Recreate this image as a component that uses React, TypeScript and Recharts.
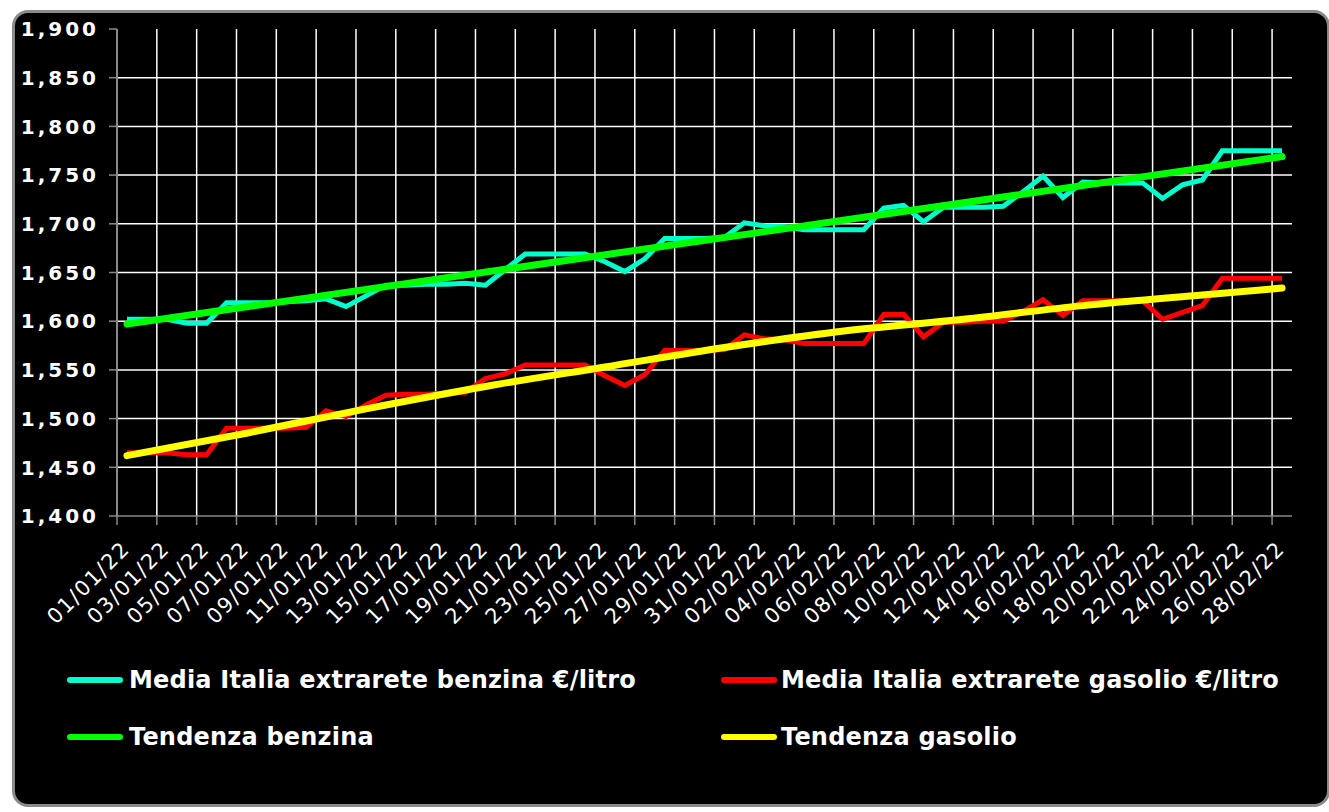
import React from 'react';
import { LineChart, Line, XAxis, YAxis, CartesianGrid, Legend } from 'recharts';

const dates = [
  '01/01/22', '02/01/22', '03/01/22', '04/01/22', '05/01/22', '06/01/22', '07/01/22', '08/01/22',
  '09/01/22', '10/01/22', '11/01/22', '12/01/22', '13/01/22', '14/01/22', '15/01/22', '16/01/22',
  '17/01/22', '18/01/22', '19/01/22', '20/01/22', '21/01/22', '22/01/22', '23/01/22', '24/01/22',
  '25/01/22', '26/01/22', '27/01/22', '28/01/22', '29/01/22', '30/01/22', '31/01/22', '01/02/22',
  '02/02/22', '03/02/22', '04/02/22', '05/02/22', '06/02/22', '07/02/22', '08/02/22', '09/02/22',
  '10/02/22', '11/02/22', '12/02/22', '13/02/22', '14/02/22', '15/02/22', '16/02/22', '17/02/22',
  '18/02/22', '19/02/22', '20/02/22', '21/02/22', '22/02/22', '23/02/22', '24/02/22', '25/02/22',
  '26/02/22', '27/02/22', '28/02/22',
];

const benzina = [
  1.602, 1.602, 1.602, 1.598, 1.598, 1.619, 1.619, 1.619, 1.620, 1.621,
  1.623, 1.615, 1.626, 1.637, 1.637, 1.638, 1.638, 1.639, 1.637, 1.653,
  1.669, 1.669, 1.669, 1.669, 1.661, 1.651, 1.664, 1.685, 1.685, 1.685,
  1.686, 1.701, 1.698, 1.697, 1.694, 1.694, 1.694, 1.694, 1.716, 1.719,
  1.702, 1.717, 1.717, 1.717, 1.718, 1.733, 1.749, 1.727, 1.743, 1.742,
  1.742, 1.742, 1.726, 1.740, 1.745, 1.775, 1.775, 1.775, 1.775,
];

const gasolio = [
  1.465, 1.465, 1.465, 1.463, 1.463, 1.490, 1.490, 1.490, 1.490, 1.491,
  1.508, 1.502, 1.514, 1.524, 1.525, 1.525, 1.526, 1.527, 1.541, 1.546,
  1.555, 1.555, 1.555, 1.555, 1.544, 1.534, 1.545, 1.570, 1.570, 1.570,
  1.571, 1.586, 1.582, 1.581, 1.577, 1.577, 1.577, 1.577, 1.607, 1.607,
  1.584, 1.599, 1.599, 1.600, 1.600, 1.610, 1.622, 1.606, 1.621, 1.621,
  1.621, 1.621, 1.602, 1.609, 1.616, 1.644, 1.644, 1.644, 1.644,
];

// benzina trend: straight line, end points
const trendBenzinaDays = [0, 58];
const trendBenzina = [1.597, 1.769];
// gasolio trend: gently curved, values at these days
const trendGasolioDays = [0, 6, 12, 18, 24, 30, 36, 42, 48, 54, 58];
const trendGasolio = [1.462, 1.485, 1.510, 1.533, 1.553, 1.573, 1.590, 1.602, 1.616, 1.627, 1.634];

const yTicks = [1.4, 1.45, 1.5, 1.55, 1.6, 1.65, 1.7, 1.75, 1.8, 1.85, 1.9];
const yGridValues = [1.45, 1.5, 1.55, 1.6, 1.65, 1.7, 1.75, 1.8, 1.85];

const seriesNames = [
  'Media Italia extrarete benzina €/litro',
  'Media Italia extrarete gasolio €/litro',
  'Tendenza benzina',
  'Tendenza gasolio',
];
const seriesColors = ['#00FFCC', '#FF0000', '#00FF00', '#FFFF00'];

const last = dates.length - 1;
const data = dates.map((d, i) => {
  const b = trendBenzinaDays.indexOf(i);
  const g = trendGasolioDays.indexOf(i);
  return {
    idx: i,
    date: d,
    benz: benzina[i],
    gas: gasolio[i],
    tb: b >= 0 ? trendBenzina[b] : null,
    tg: g >= 0 ? trendGasolio[g] : null,
  };
});

// category boundaries (ticks between categories, every 2 days)
const xTicks = dates.map((_, i) => i - 0.5).filter((_, i) => i % 2 === 0);

const fmtY = (v: number) => v.toFixed(3).replace('.', ',');

const XTick = (props: any) => {
  const { x, y, payload } = props;
  const label = dates[Math.round(payload.value + 0.5)];
  const px = x + 14;
  const py = y + 25;
  return (
    <text
      x={px}
      y={py}
      transform={`rotate(-45, ${px}, ${py})`}
      textAnchor="end"
      fill="#ffffff"
      fontFamily="DejaVu Sans"
      fontSize={21}
      letterSpacing={1.5}
    >
      {label}
    </text>
  );
};

const YTick = (props: any) => {
  const { x, y, payload } = props;
  return (
    <text
      x={x}
      y={y}
      dy="0.36em"
      textAnchor="end"
      fill="#ffffff"
      fontFamily="DejaVu Sans"
      fontWeight="bold"
      fontSize={20}
      letterSpacing={3}
    >
      {fmtY(payload.value)}
    </text>
  );
};

const legendPos = [
  { line: 67, text: 129, top: 43 },
  { line: 721, text: 781, top: 43 },
  { line: 67, text: 129, top: 100 },
  { line: 721, text: 781, top: 100 },
];

const LegendBox = () => (
  <div style={{ position: 'relative', width: 1329, height: 190 }}>
    {seriesNames.map((name, i) => (
      <div
        key={name}
        style={{
          position: 'absolute',
          left: 0,
          top: legendPos[i].top,
          height: 30,
          width: 1329,
        }}
      >
        <div
          style={{
            position: 'absolute',
            left: legendPos[i].line,
            top: 12,
            width: 56,
            height: 6,
            borderRadius: 3,
            background: seriesColors[i],
          }}
        />
        <div
          style={{
            position: 'absolute',
            left: legendPos[i].text,
            top: 0,
            height: 30,
            lineHeight: '30px',
            whiteSpace: 'nowrap',
            color: '#ffffff',
            fontFamily: 'DejaVu Sans',
            fontWeight: 'bold',
            fontSize: 24,
            letterSpacing: 0.2,
          }}
        >
          {name}
        </div>
      </div>
    ))}
  </div>
);

export default function App() {
  return (
    <div style={{ position: 'absolute', left: 0, top: 0, width: 1329, height: 812, background: '#ffffff', overflow: 'hidden' }}>
      <div
        style={{
          position: 'absolute',
          left: 12,
          top: 10,
          width: 1318,
          height: 797,
          background: '#000000',
          border: '3px solid #8a8a8a',
          borderRadius: 16,
          boxSizing: 'border-box',
        }}
      />
      <div style={{ position: 'absolute', left: 0, top: 0 }}>
        <LineChart width={1329} height={812} data={data} margin={{ top: 29, right: 37, left: 0, bottom: 0 }}>
          <CartesianGrid
            stroke="#ffffff"
            strokeWidth={1.5}
            horizontalValues={yGridValues}
            verticalValues={xTicks}
          />
          <XAxis
            dataKey="idx"
            type="number"
            domain={[-0.5, last + 0.5]}
            ticks={xTicks}
            interval={0}
            height={106}
            tickSize={9}
            tickMargin={0}
            axisLine={{ stroke: '#8a8a8a', strokeWidth: 1.5 }}
            tickLine={{ stroke: '#8a8a8a', strokeWidth: 1.5 }}
            tick={<XTick />}
          />
          <YAxis
            type="number"
            domain={[1.4, 1.9]}
            ticks={yTicks}
            interval={0}
            width={117}
            tickSize={8}
            tickMargin={10}
            axisLine={{ stroke: '#8a8a8a', strokeWidth: 2 }}
            tickLine={{ stroke: '#8a8a8a', strokeWidth: 1.5 }}
            tick={<YTick />}
          />
          <Legend
            verticalAlign="bottom"
            wrapperStyle={{ left: 0, top: 622, bottom: 'auto', width: 1329, height: 190 }}
            content={() => <LegendBox />}
          />
          <Line dataKey="benz" stroke={seriesColors[0]} strokeWidth={5} dot={false} isAnimationActive={false} strokeLinejoin="miter" />
          <Line dataKey="gas" stroke={seriesColors[1]} strokeWidth={5} dot={false} isAnimationActive={false} strokeLinejoin="miter" />
          <Line dataKey="tb" stroke={seriesColors[2]} strokeWidth={7} dot={false} connectNulls isAnimationActive={false} strokeLinecap="round" />
          <Line type="monotone" dataKey="tg" stroke={seriesColors[3]} strokeWidth={7} dot={false} connectNulls isAnimationActive={false} strokeLinecap="round" />
        </LineChart>
      </div>
    </div>
  );
}
